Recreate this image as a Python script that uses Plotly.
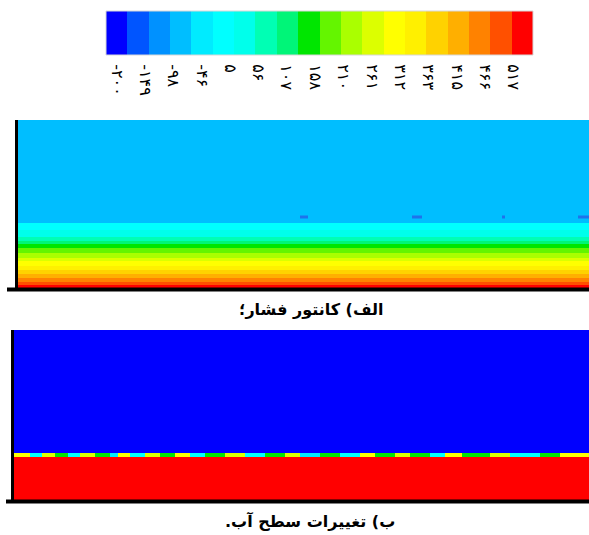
import numpy as np
import plotly.graph_objects as go

# ---------------- data ----------------
# 20-band rainbow used by the contour legend
band_colors = [
    "rgb(0,0,255)", "rgb(0,85,255)", "rgb(0,145,255)", "rgb(0,190,255)",
    "rgb(0,235,255)", "rgb(0,255,255)", "rgb(0,255,235)", "rgb(0,255,180)",
    "rgb(0,245,120)", "rgb(0,230,0)", "rgb(100,245,0)", "rgb(170,255,0)",
    "rgb(220,255,0)", "rgb(255,255,0)", "rgb(255,240,0)", "rgb(255,210,0)",
    "rgb(255,175,0)", "rgb(255,130,0)", "rgb(255,80,0)", "rgb(255,0,0)",
]
legend_range = [-220, 553]
tick_values = [-200, -149, -98, -46, 5, 56, 107, 158, 210, 261, 312, 363, 415, 466, 517]
tick_labels = ["-۲۰۰", "-۱۴۹", "-۹۸", "-۴۶", "۵", "۵۶", "۱۰۷", "۱۵۸",
               "۲۱۰", "۲۶۱", "۳۱۲", "۳۶۳", "۴۱۵", "۴۶۶", "۵۱۷"]

# panel (a): pressure bands, heights measured from channel bed
a_height_edges = [0, 3, 6, 10, 14, 18, 22, 27, 30, 35, 40, 44, 47, 51, 58, 65, 168]
a_pressure = [534, 495, 457, 418, 379, 341, 302, 263, 225, 186, 148, 109, 70, 32, -7, -85]
a_width = 571
# small low-pressure spots just above the free surface
a_spot_x0 = [282, 394, 484, 560]
a_spot_x1 = [290, 404, 487, 571]
a_spot_h = 71

# panel (b): water volume fraction
b_height_edges = [0, 43.5, 47, 170]
b_x_edges = [0, 16, 28, 41, 54, 66, 81, 96, 104, 116, 131, 146, 161, 176, 191, 211,
             231, 251, 271, 286, 306, 326, 346, 361, 381, 396, 416, 431, 448, 476,
             496, 526, 546, 575]
b_interface = [0.675, 0.275, 0.625, 0.475, 0.275, 0.625, 0.475, 0.225, 0.675, 0.275,
               0.625, 0.475, 0.675, 0.275, 0.475, 0.625, 0.275, 0.475, 0.625, 0.225,
               0.475, 0.275, 0.675, 0.475, 0.625, 0.475, 0.275, 0.675, 0.475, 0.625,
               0.275, 0.475, 0.675]
b_water, b_air = 1.0, 0.0

caption_a = "الف) کانتور فشار؛"
caption_b = "ب) تغییرات سطح آب."

# ---------------- figure ----------------
W, H = 589, 535
nb = len(band_colors)
cscale = []
for k, c in enumerate(band_colors):
    cscale.append([k / nb, c])
    cscale.append([(k + 1) / nb, c])

fig = go.Figure()

# legend bar
edges = np.linspace(legend_range[0], legend_range[1], nb + 1)
centers = (edges[:-1] + edges[1:]) / 2
fig.add_trace(go.Heatmap(x=edges, y=[0, 1], z=[centers], colorscale=cscale,
                         zmin=legend_range[0], zmax=legend_range[1], showscale=False,
                         hoverinfo="skip", xaxis="x3", yaxis="y3"))

# panel a
z_a = [[p] for p in a_pressure]
fig.add_trace(go.Heatmap(x=[0, a_width], y=a_height_edges, z=z_a, colorscale=cscale,
                         zmin=legend_range[0], zmax=legend_range[1], showscale=False,
                         hoverinfo="skip", xaxis="x", yaxis="y"))
sx, sy = [], []
for x0, x1 in zip(a_spot_x0, a_spot_x1):
    sx += [x0, x1, None]
    sy += [a_spot_h, a_spot_h, None]
fig.add_trace(go.Scatter(x=sx, y=sy, mode="lines", line=dict(color="rgb(30,115,235)", width=3),
                         hoverinfo="skip", showlegend=False, xaxis="x", yaxis="y"))

# panel b
z_b = [[b_water] * len(b_interface), b_interface, [b_air] * len(b_interface)]
fig.add_trace(go.Heatmap(x=b_x_edges, y=b_height_edges, z=z_b, colorscale=cscale,
                         zmin=0, zmax=1, showscale=False, hoverinfo="skip",
                         xaxis="x2", yaxis="y2"))


def px(x):
    return x / W


def py(y):
    return 1 - y / H


hidden = dict(visible=False, showgrid=False, zeroline=False, fixedrange=True)
fig.update_layout(
    width=W, height=H, margin=dict(l=0, r=0, t=0, b=0),
    paper_bgcolor="white", plot_bgcolor="white", showlegend=False,
    xaxis=dict(domain=[px(18), 1], range=[0, a_width], anchor="y", **hidden),
    yaxis=dict(domain=[py(288), py(120)], range=[0, a_height_edges[-1]], anchor="x", **hidden),
    xaxis2=dict(domain=[px(14), 1], range=[0, b_x_edges[-1]], anchor="y2", **hidden),
    yaxis2=dict(domain=[py(500), py(330)], range=[0, b_height_edges[-1]], anchor="x2", **hidden),
    xaxis3=dict(domain=[px(106), px(533)], range=legend_range, anchor="y3",
                tickvals=tick_values,
                ticktext=["\u202d" + t + "\u202c" for t in tick_labels],
                tickangle=90,
                ticks="outside", ticklen=5, tickcolor="rgba(0,0,0,0)",
                tickfont=dict(family="DejaVu Sans", size=16, color="black"),
                showgrid=False, zeroline=False, showline=False, fixedrange=True),
    yaxis3=dict(domain=[py(55), py(11)], range=[0, 1], anchor="x3", **hidden),
)

# frame lines
line = dict(color="black", width=3)
fig.add_shape(type="line", xref="paper", yref="paper", x0=px(16.5), x1=px(16.5),
              y0=py(120), y1=py(290), line=line)
fig.add_shape(type="line", xref="paper", yref="paper", x0=px(7), x1=1,
              y0=py(289.5), y1=py(289.5), line=dict(color="black", width=4))
fig.add_shape(type="line", xref="paper", yref="paper", x0=px(12.5), x1=px(12.5),
              y0=py(330), y1=py(502), line=line)
fig.add_shape(type="line", xref="paper", yref="paper", x0=px(6), x1=1,
              y0=py(501.5), y1=py(501.5), line=dict(color="black", width=4))
fig.add_shape(type="rect", xref="paper", yref="paper", x0=px(106), x1=px(533),
              y0=py(55), y1=py(11), line=dict(color="rgb(215,215,215)", width=1))

cap_font = dict(family="DejaVu Sans", size=16, color="black")
fig.add_annotation(x=px(311), y=py(309), xref="paper", yref="paper", showarrow=False,
                   xanchor="center", yanchor="middle",
                   text="<b>\u202b" + caption_a + "\u202c</b>", font=cap_font)
fig.add_annotation(x=px(310), y=py(521), xref="paper", yref="paper", showarrow=False,
                   xanchor="center", yanchor="middle",
                   text="<b>\u202b" + caption_b + "\u202c</b>", font=cap_font)

fig.write_html("out.html", config={"displayModeBar": False},
               post_script="document.body.style.margin='0';"
               "document.body.style.overflow='hidden';")
